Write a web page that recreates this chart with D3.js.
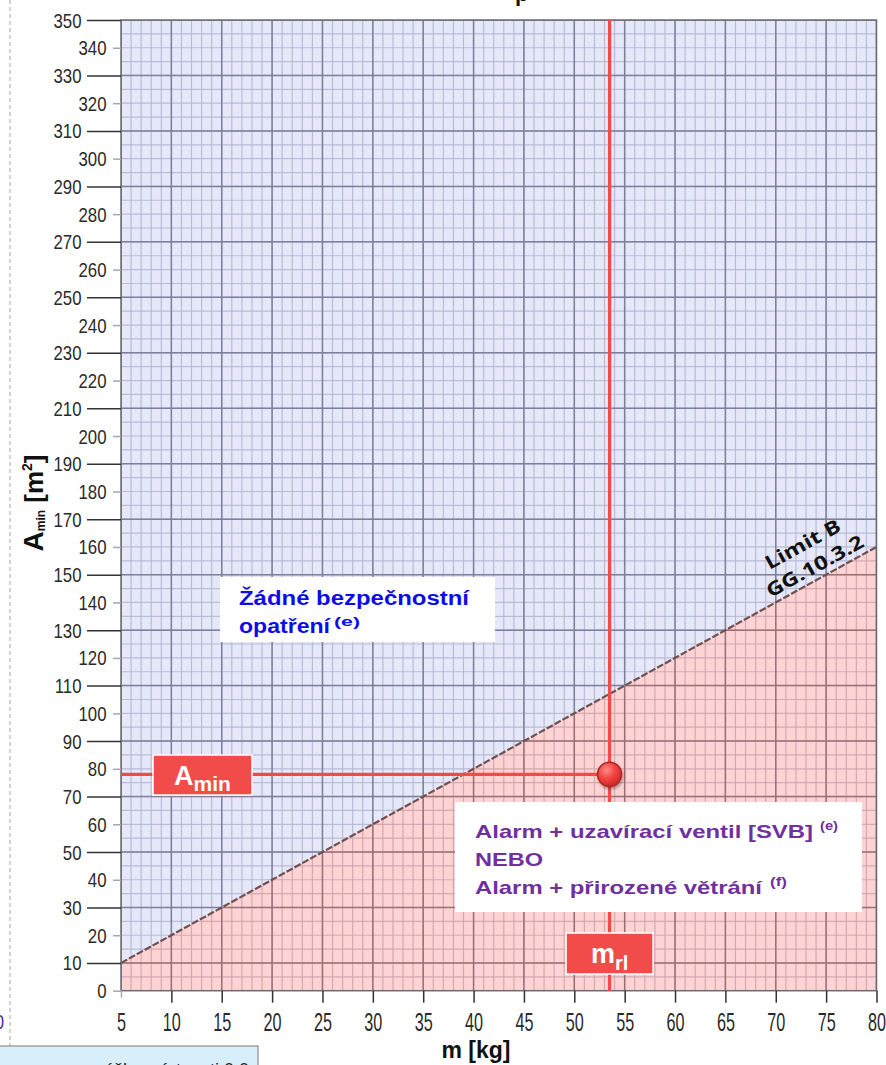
<!DOCTYPE html>
<html><head><meta charset="utf-8">
<script src="https://cdn.jsdelivr.net/npm/d3@7/dist/d3.min.js"></script>
<style>body{margin:0;background:#fff;overflow:hidden}svg{display:block}</style>
</head><body>
<svg id="c" width="886" height="1065"></svg>
<script>
// ---- data ----
const xTickValues = [5,10,15,20,25,30,35,40,45,50,55,60,65,70,75,80];
const yTickValues = [0,10,20,30,40,50,60,70,80,90,100,110,120,130,140,150,160,170,180,190,200,210,220,230,240,250,260,270,280,290,300,310,320,330,340,350];
const yMajorTicks = [10,30,50,70,90,110,130,150,170,190,210,230,250,270,290,310,330,350];
const limitM = [5, 80];      // kg
const limitA = [10, 160];    // m2  (Limit B, GG.10.3.2)
const mRl = 53.5;            // kg
const aMin = 78;             // m2
const zoneTopLines = ["Žádné bezpečnostní", "opatření"];
const zoneTopSup = "(e)";
const zoneBottomLines = ["Alarm + uzavírací ventil [SVB]", "NEBO", "Alarm + přirozené větrání"];
const zoneBottomSups = ["(e)", null, "(f)"];

// ---- layout ----
const L = 121, R = 876.5, T = 20, B = 990.7;
const svg = d3.select("#c");
const x = d3.scaleLinear().domain([5, 80]).range([L, R]);
const y = d3.scaleLinear().domain([0, 350]).range([B, T]);
const sans = "'Liberation Sans',Arial,sans-serif";

const defs = svg.append("defs");
defs.append("clipPath").attr("id","plot").append("rect")
  .attr("x",L).attr("y",T).attr("width",R-L).attr("height",B-T);
const rg = defs.append("radialGradient").attr("id","dot").attr("cx","38%").attr("cy","32%").attr("r","70%");
rg.append("stop").attr("offset","0%").attr("stop-color","#ff8a86");
rg.append("stop").attr("offset","55%").attr("stop-color","#f0413d");
rg.append("stop").attr("offset","100%").attr("stop-color","#cf2a27");
const sh = defs.append("filter").attr("id","shadow").attr("x","-50%").attr("y","-50%").attr("width","200%").attr("height","200%");
sh.append("feDropShadow").attr("dx",1).attr("dy",2).attr("stdDeviation",1.5).attr("flood-color","#000").attr("flood-opacity",0.35);

// left dashed separator and fragments outside the chart
svg.append("line").attr("x1",10).attr("x2",10).attr("y1",0).attr("y2",1046)
  .attr("stroke","#a8a8a8").attr("stroke-width",1).attr("stroke-dasharray","4,3");
svg.append("text").attr("transform","translate(4,1029) scale(0.84,1)").attr("text-anchor","end")
  .attr("font-family",sans).attr("font-size",20).attr("fill","#4b2a8f").text("0");
svg.append("text").attr("x",515).attr("y",1).attr("font-family",sans).attr("font-weight","bold")
  .attr("font-size",22).attr("fill","#111").text("p");

// ---- grid ----
const g = svg.append("g").attr("clip-path","url(#plot)");
g.append("rect").attr("x",L).attr("y",T).attr("width",R-L).attr("height",B-T).attr("fill","#fff");
const minorX = d3.range(5, 80.5, 1), minorY = d3.range(0, 350.5, 5);
g.selectAll(".mx").data(minorX).join("line")
  .attr("x1",d=>x(d)).attr("x2",d=>x(d)).attr("y1",T).attr("y2",B)
  .attr("stroke","#c6c6d0").attr("stroke-width",1.2);
g.selectAll(".my").data(minorY).join("line")
  .attr("y1",d=>y(d)).attr("y2",d=>y(d)).attr("x1",L).attr("x2",R)
  .attr("stroke","#c6c6d0").attr("stroke-width",1.2);
g.selectAll(".Mx").data(xTickValues).join("line")
  .attr("x1",d=>x(d)).attr("x2",d=>x(d)).attr("y1",T).attr("y2",B)
  .attr("stroke","#7a7a86").attr("stroke-width",1.5);
g.selectAll(".My").data(yMajorTicks).join("line")
  .attr("y1",d=>y(d)).attr("y2",d=>y(d)).attr("x1",L).attr("x2",R)
  .attr("stroke","#7a7a86").attr("stroke-width",1.5);

// ---- zones ----
const pathGen = d3.line().x(d=>x(d[0])).y(d=>y(d[1]));
const zoneAbove = [[limitM[0],limitA[0]],[limitM[1],limitA[1]],[limitM[1],350],[limitM[0],350]];
const zoneBelow = [[limitM[0],0],[limitM[1],0],[limitM[1],limitA[1]],[limitM[0],limitA[0]]];
g.append("path").attr("d",pathGen(zoneAbove)+"Z").attr("fill","rgba(140,150,230,0.22)");
g.append("path").attr("d",pathGen(zoneBelow)+"Z").attr("fill","rgba(250,80,80,0.25)");
g.append("path").attr("d",pathGen(limitM.map((m,i)=>[m,limitA[i]])))
  .attr("fill","none").attr("stroke","#6f5050").attr("stroke-width",2.2).attr("stroke-dasharray","7,2");

// frame
svg.append("rect").attr("x",L).attr("y",T).attr("width",R-L).attr("height",B-T)
  .attr("fill","none").attr("stroke","#6a6a74").attr("stroke-width",1.5);

// ---- axes ----
const yMinorAx = d3.axisLeft(y).tickValues(yTickValues.filter(v=>!yMajorTicks.includes(v)))
  .tickSize(8).tickFormat(d3.format("d"));
const yMajorAx = d3.axisLeft(y).tickValues(yMajorTicks).tickSize(34).tickFormat(d3.format("d"));
[[yMinorAx,"#a8a8a8",14.5],[yMajorAx,"#333",39.5]].forEach(([ax,col,off])=>{
  const a = svg.append("g").attr("transform",`translate(${L},0)`).call(ax);
  a.select(".domain").remove();
  a.selectAll(".tick line").attr("stroke",col).attr("stroke-width",1.5);
  a.selectAll(".tick text").attr("font-family",sans).attr("font-size",20).attr("fill","#2a2a2a")
    .attr("x",0).attr("dy","0.35em").attr("transform",`translate(${-off},0) scale(0.84,1)`);
});
const xAx = d3.axisBottom(x).tickValues(xTickValues).tickSize(12).tickFormat(d3.format("d"));
const xa = svg.append("g").attr("transform",`translate(0,${B})`).call(xAx);
xa.select(".domain").remove();
xa.selectAll(".tick line").attr("stroke",d=>d===5?"#a8a8a8":"#333").attr("stroke-width",1.5).attr("y2",d=>d===5?7:12);
xa.selectAll(".tick text").attr("font-family",sans).attr("font-size",20).attr("fill","#2a2a2a")
  .attr("y",0).attr("dy",0).attr("transform","translate(0,40) scale(0.81,1.25)");

// axis titles
svg.append("text").attr("x",476).attr("y",1058).attr("text-anchor","middle")
  .attr("font-family",sans).attr("font-weight","bold").attr("font-size",23).attr("fill","#111").text("m [kg]");
const yt = svg.append("text").attr("transform","translate(43,503) rotate(-90)").attr("text-anchor","middle")
  .attr("font-family",sans).attr("font-weight","bold").attr("fill","#111");
yt.append("tspan").attr("font-size",28).text("A");
yt.append("tspan").attr("font-size",12).attr("dy",2).text("min");
yt.append("tspan").attr("font-size",26).attr("dy",-2).text(" [m");
yt.append("tspan").attr("font-size",14).attr("dy",-11).text("2");
yt.append("tspan").attr("font-size",26).attr("dy",11).text("]");

// ---- Limit B label ----
const ang = -Math.atan((y(limitA[0])-y(limitA[1]))/(x(limitM[1])-x(limitM[0])))*180/Math.PI;
const lb = svg.append("g").attr("transform",`translate(818,572) rotate(${ang})`)
  .attr("font-family","'Open Sans',sans-serif").attr("font-weight","bold").attr("font-size",19).attr("fill","#111");
lb.append("text").attr("x",0).attr("y",-25).attr("text-anchor","middle")
  .attr("textLength",83).attr("lengthAdjust","spacingAndGlyphs").text("Limit B");
lb.append("text").attr("x",0).attr("y",0).attr("text-anchor","middle")
  .attr("textLength",108).attr("lengthAdjust","spacingAndGlyphs").text("GG.10.3.2");

// ---- red guide lines ----
svg.append("line").attr("x1",x(mRl)).attr("x2",x(mRl)).attr("y1",T).attr("y2",B)
  .attr("stroke","#f24a47").attr("stroke-width",3.2);
svg.append("line").attr("x1",L).attr("x2",x(mRl)).attr("y1",y(aMin)).attr("y2",y(aMin))
  .attr("stroke","#f24a47").attr("stroke-width",3.2);

// ---- zone text boxes ----
const b1 = svg.append("g");
b1.append("rect").attr("x",220).attr("y",577).attr("width",275).attr("height",65).attr("fill","#fff");
const t1 = b1.append("g").attr("font-family",sans).attr("font-weight","bold").attr("fill","#0c0cea");
const w1 = [230, 91];
zoneTopLines.forEach((s,i)=>{
  t1.append("text").attr("x",239).attr("y",605+28*i).attr("font-size",19.5)
    .attr("textLength",w1[i]).attr("lengthAdjust","spacingAndGlyphs").text(s);
});
t1.append("text").attr("x",334).attr("y",626).attr("font-size",12.5)
  .attr("textLength",26).attr("lengthAdjust","spacingAndGlyphs").text(zoneTopSup);

const b2 = svg.append("g");
b2.append("rect").attr("x",455).attr("y",802).attr("width",407).attr("height",110).attr("fill","#fff");
const t2 = b2.append("g").attr("font-family",sans).attr("font-weight","bold").attr("fill","#7030a0");
const w2 = [338, 68, 287];
const supX = [820, null, 770];
zoneBottomLines.forEach((s,i)=>{
  t2.append("text").attr("x",475).attr("y",838+28*i).attr("font-size",18.5)
    .attr("textLength",w2[i]).attr("lengthAdjust","spacingAndGlyphs").text(s);
  if (zoneBottomSups[i]) t2.append("text").attr("x",supX[i]).attr("y",830+28*i).attr("font-size",12)
    .attr("textLength",i===0?18:17).attr("lengthAdjust","spacingAndGlyphs").text(zoneBottomSups[i]);
});

// ---- value tags ----
const tagA = svg.append("g");
tagA.append("rect").attr("x",153).attr("y",755).attr("width",99).attr("height",40)
  .attr("fill","#f24c4a").attr("stroke","#fff").attr("stroke-width",1.5);
const ta = tagA.append("text").attr("x",202.5).attr("y",785).attr("text-anchor","middle")
  .attr("font-family",sans).attr("font-weight","bold").attr("fill","#fff");
ta.append("tspan").attr("font-size",27).text("A");
ta.append("tspan").attr("font-size",21).attr("dy",6).text("min");

const tagM = svg.append("g");
tagM.append("rect").attr("x",x(mRl)-43.5).attr("y",933).attr("width",87).attr("height",41)
  .attr("fill","#f24c4a").attr("stroke","#fff").attr("stroke-width",1.5);
const tm = tagM.append("text").attr("x",x(mRl)).attr("y",963).attr("text-anchor","middle")
  .attr("font-family",sans).attr("font-weight","bold").attr("fill","#fff");
tm.append("tspan").attr("font-size",27).text("m");
tm.append("tspan").attr("font-size",20).attr("dy",7).text("rl");

// ---- operating point ----
svg.append("circle").attr("cx",x(mRl)).attr("cy",y(aMin)).attr("r",12)
  .attr("fill","url(#dot)").attr("stroke","#b02624").attr("stroke-width",1.5).attr("filter","url(#shadow)");

// bottom-left info box (cut off by the page edge)
svg.append("rect").attr("x",-1).attr("y",1046).attr("width",259).attr("height",30)
  .attr("fill","#d7effa").attr("stroke","#8c8c8c").attr("stroke-width",1.2);
svg.append("text").attr("x",96).attr("y",1076).attr("font-family",sans).attr("font-size",18).attr("fill","#222")
  .text("výška místnosti 0.0 m");
</script>
</body></html>
